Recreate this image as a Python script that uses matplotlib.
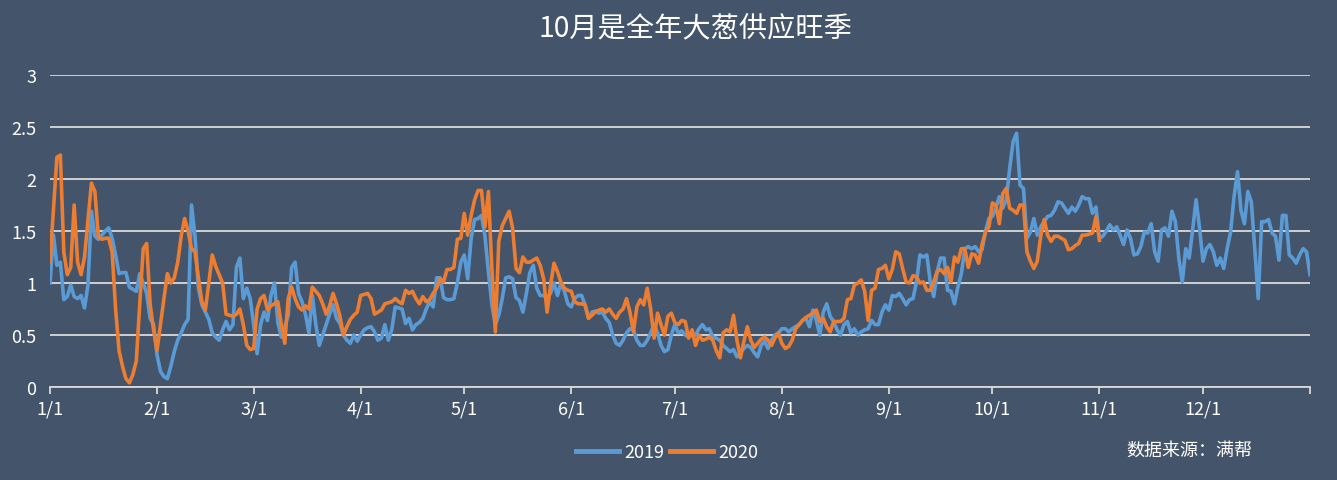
import matplotlib
matplotlib.use("Agg")
import matplotlib.pyplot as plt
import numpy as np

plt.rcParams['font.family'] = ['Noto Sans CJK SC', 'DejaVu Sans']

# daily prices by day of year (day 0 = 1/1)
price_2019 = [
    1.0, 1.46, 1.17, 1.2, 0.84, 0.87, 0.98, 0.87, 0.85, 0.88,
    0.76, 0.98, 1.69, 1.45, 1.42, 1.46, 1.5, 1.53, 1.43, 1.27,
    1.09, 1.1, 1.1, 0.96, 0.94, 0.92, 1.09, 1.0, 0.9, 0.66,
    0.6, 0.31, 0.15, 0.1, 0.08, 0.2, 0.34, 0.45, 0.52, 0.6,
    0.65, 1.75, 1.45, 0.95, 0.79, 0.72, 0.65, 0.52, 0.48, 0.45,
    0.55, 0.63, 0.55, 0.6, 1.15, 1.24, 0.85, 0.95, 0.85, 0.6,
    0.32, 0.6, 0.72, 0.64, 0.88, 1.0, 0.62, 0.48, 0.58, 0.69,
    1.15, 1.2, 0.9, 0.82, 0.7, 0.52, 0.88, 0.6, 0.4, 0.5,
    0.6, 0.7, 0.79, 0.66, 0.61, 0.5, 0.45, 0.42, 0.5, 0.44,
    0.5, 0.55, 0.57, 0.58, 0.53, 0.45, 0.47, 0.6, 0.45, 0.55,
    0.77, 0.76, 0.75, 0.61, 0.66, 0.55, 0.6, 0.62, 0.66, 0.75,
    0.82, 0.77, 1.05, 1.05, 0.86, 0.84, 0.84, 0.85, 1.0, 1.2,
    1.27, 1.04, 1.43, 1.61, 1.62, 1.65, 1.45, 1.11, 0.79, 0.6,
    0.69, 0.85, 1.05, 1.06, 1.04, 0.86, 0.83, 0.72, 0.9, 1.1,
    1.17, 0.95, 0.88, 0.88, 0.86, 0.9, 1.0, 0.88, 1.0, 0.92,
    0.8, 0.77, 0.85, 0.88, 0.88, 0.79, 0.66, 0.72, 0.73, 0.71,
    0.72, 0.66, 0.62, 0.5, 0.42, 0.4, 0.45, 0.52, 0.56, 0.55,
    0.45, 0.4, 0.4, 0.45, 0.52, 0.6, 0.52, 0.4, 0.34, 0.36,
    0.5, 0.6, 0.52, 0.54, 0.5, 0.48, 0.5, 0.5, 0.56, 0.6,
    0.55, 0.56, 0.48, 0.47, 0.45, 0.4, 0.37, 0.34, 0.36, 0.29,
    0.33, 0.37, 0.4, 0.38, 0.33, 0.29, 0.4, 0.44, 0.37, 0.45,
    0.5, 0.52, 0.56, 0.56, 0.53, 0.56, 0.58, 0.6, 0.64, 0.66,
    0.58, 0.74, 0.64, 0.5, 0.72, 0.8, 0.68, 0.63, 0.55, 0.5,
    0.6, 0.63, 0.52, 0.56, 0.5, 0.53, 0.55, 0.56, 0.64, 0.6,
    0.6, 0.72, 0.79, 0.74, 0.88, 0.87, 0.9, 0.85, 0.79, 0.84,
    0.85, 1.01, 1.27, 1.25, 1.27, 1.01, 0.87, 1.11, 1.24, 1.24,
    0.93, 0.92, 0.8, 0.96, 1.09, 1.33, 1.35, 1.33, 1.35, 1.3,
    1.32, 1.5, 1.62, 1.64, 1.72, 1.83, 1.72, 1.8, 2.1, 2.36,
    2.44, 1.94, 1.91, 1.43, 1.49, 1.62, 1.46, 1.54, 1.59, 1.64,
    1.65, 1.7, 1.78, 1.77, 1.72, 1.67, 1.73, 1.69, 1.75, 1.83,
    1.81, 1.81, 1.67, 1.73, 1.43, 1.45, 1.5, 1.56, 1.51, 1.54,
    1.46, 1.37, 1.51, 1.43, 1.27, 1.28, 1.35, 1.49, 1.48, 1.57,
    1.3, 1.21, 1.51, 1.53, 1.45, 1.69, 1.59, 1.24, 1.01, 1.33,
    1.24, 1.51, 1.8, 1.53, 1.21, 1.33, 1.37, 1.3, 1.17, 1.24,
    1.14, 1.33, 1.49, 1.83, 2.07, 1.7, 1.57, 1.88, 1.78, 1.33,
    0.85, 1.59, 1.59, 1.61, 1.48, 1.45, 1.22, 1.65, 1.65, 1.27,
    1.24, 1.19, 1.27, 1.33, 1.3, 1.08,
]

price_2020 = [
    1.2, 1.7, 2.21, 2.23, 1.3, 1.08, 1.15, 1.75, 1.2, 1.08,
    1.25, 1.6, 1.96, 1.88, 1.45, 1.42, 1.43, 1.43, 1.3, 0.75,
    0.35, 0.2, 0.08, 0.04, 0.12, 0.25, 0.8, 1.33, 1.38, 0.8,
    0.55, 0.35, 0.6, 0.85, 1.09, 1.0, 1.05, 1.2, 1.45, 1.62,
    1.5, 1.33, 1.3, 1.05, 0.82, 0.74, 1.0, 1.27, 1.16, 1.08,
    1.0, 0.7, 0.69, 0.68, 0.7, 0.75, 0.6, 0.4, 0.36, 0.37,
    0.75, 0.85, 0.88, 0.74, 0.78, 0.8, 0.82, 0.6, 0.42, 0.85,
    0.96, 0.85, 0.77, 0.74, 0.78, 0.75, 0.96, 0.92, 0.88, 0.8,
    0.7, 0.78, 0.9, 0.8, 0.68, 0.5, 0.58, 0.65, 0.69, 0.72,
    0.88, 0.89, 0.9, 0.85, 0.7, 0.72, 0.74, 0.8, 0.81, 0.82,
    0.85, 0.82, 0.8, 0.93, 0.9, 0.92, 0.85, 0.8, 0.87, 0.82,
    0.84, 0.9, 0.95, 1.04, 1.01, 1.13, 1.13, 1.15, 1.42, 1.43,
    1.67, 1.46, 1.65, 1.8, 1.89, 1.89, 1.54, 1.88, 1.14, 0.53,
    1.4, 1.55, 1.62, 1.69, 1.53, 1.14, 1.1, 1.25, 1.2, 1.2,
    1.22, 1.24, 1.17, 1.04, 0.72, 0.98, 1.19, 1.11, 1.01, 0.95,
    0.93, 0.92, 0.82, 0.8, 0.8, 0.79, 0.66, 0.69, 0.72, 0.74,
    0.75, 0.72, 0.75, 0.7, 0.66, 0.72, 0.75, 0.85, 0.72, 0.53,
    0.77, 0.84, 0.79, 0.95, 0.75, 0.47, 0.71, 0.6, 0.5, 0.68,
    0.71, 0.62, 0.6, 0.64, 0.63, 0.47, 0.55, 0.4, 0.5, 0.45,
    0.46, 0.48, 0.45, 0.35, 0.28, 0.52, 0.55, 0.53, 0.69, 0.45,
    0.28, 0.44, 0.58, 0.45, 0.38, 0.42, 0.46, 0.48, 0.45, 0.4,
    0.47, 0.52, 0.42, 0.37, 0.39, 0.45, 0.56, 0.6, 0.64, 0.67,
    0.69, 0.71, 0.74, 0.63, 0.66, 0.58, 0.53, 0.63, 0.63, 0.63,
    0.66, 0.84, 0.85, 0.98, 1.0, 1.03, 0.92, 0.64, 0.93, 0.95,
    1.13, 1.14, 1.17, 1.04, 1.13, 1.3, 1.28, 1.14, 1.01, 1.0,
    1.07, 1.06, 1.0, 1.01, 0.93, 0.93, 1.01, 1.11, 1.13, 1.09,
    1.15, 1.01, 1.25, 1.2, 1.33, 1.33, 1.15, 1.28, 1.27, 1.19,
    1.37, 1.49, 1.54, 1.77, 1.75, 1.57, 1.86, 1.91, 1.72, 1.7,
    1.67, 1.75, 1.75, 1.3, 1.21, 1.14, 1.21, 1.45, 1.61, 1.46,
    1.4, 1.45, 1.45, 1.43, 1.41, 1.32, 1.33, 1.36, 1.38, 1.46,
    1.46, 1.47, 1.48, 1.64, 1.41,
]

month_start = [0, 31, 59, 90, 120, 151, 181, 212, 243, 273, 304, 334]
month_labels = ['1/1', '2/1', '3/1', '4/1', '5/1', '6/1',
                '7/1', '8/1', '9/1', '10/1', '11/1', '12/1']
y_ticks = [0, 0.5, 1, 1.5, 2, 2.5, 3]
y_labels = ['0', '0.5', '1', '1.5', '2', '2.5', '3']

bg = '#44546A'
grid_c = '#D9D9D9'

fig = plt.figure(figsize=(13.37, 4.81), dpi=100, facecolor=bg)
ax = fig.add_axes([50/1337, 93/481, 1260/1337, 312/481])
ax.set_facecolor(bg)

ax.plot(np.arange(len(price_2019)), price_2019, color='#5B9BD5', lw=2.6, label='2019', zorder=3)
ax.plot(np.arange(len(price_2020)), price_2020, color='#ED7D31', lw=2.6, label='2020', zorder=4)

ax.set_xlim(0, 365)
ax.set_ylim(0, 3)
ax.set_yticks(y_ticks)
ax.set_yticklabels(y_labels)
ax.set_xticks(month_start + [365])
ax.set_xticklabels(month_labels + [''])

ax.grid(axis='y', color=grid_c, lw=1.3)
ax.set_axisbelow(True)
for s in ['top', 'left', 'right']:
    ax.spines[s].set_visible(False)
ax.spines['bottom'].set_color(grid_c)
ax.spines['bottom'].set_linewidth(1.3)

ax.tick_params(axis='y', length=0, pad=10, labelcolor='white', labelsize=13)
ax.tick_params(axis='x', length=5, width=1.3, color=grid_c, pad=4,
               labelcolor='white', labelsize=13)

fig.text(695/1337, 1 - 29/481, '10月是全年大葱供应旺季', color='white',
         fontsize=20.3, ha='center', va='center')

leg = fig.legend(loc='center', bbox_to_anchor=(667/1337, 1 - 453/481), ncol=2,
                 frameon=False, handlelength=2.4, handletextpad=0.3,
                 columnspacing=0.3, fontsize=13)
for t in leg.get_texts():
    t.set_color('white')
for h in leg.get_lines():
    h.set_linewidth(3.5)

fig.text(1252/1337, 1 - 451/481, '数据来源：满帮', color='white',
         fontsize=13, ha='right', va='center')

fig.savefig('out.png', dpi=100, facecolor=bg)
